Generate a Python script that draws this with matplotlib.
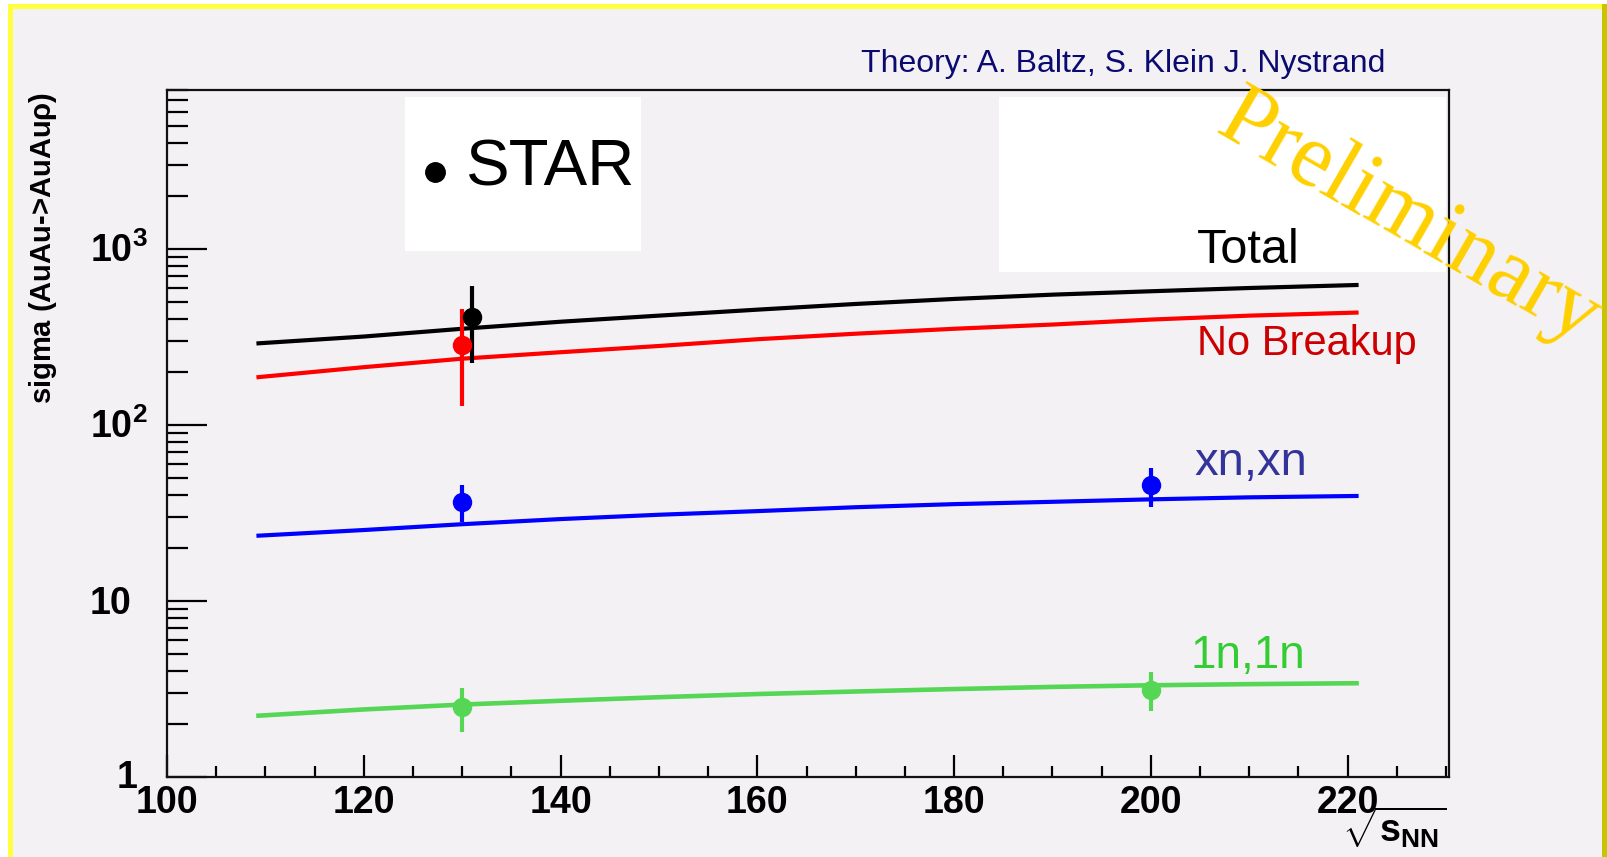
import matplotlib
matplotlib.use("Agg")
import matplotlib.pyplot as plt
from matplotlib.patches import Rectangle
from matplotlib.transforms import blended_transform_factory, ScaledTranslation
from matplotlib.ticker import FixedLocator, MultipleLocator, LogLocator, NullFormatter

plt.rcParams['font.family'] = ['Liberation Sans', 'DejaVu Sans']
plt.rcParams['mathtext.fontset'] = 'custom'
plt.rcParams['mathtext.rm'] = 'Liberation Sans'
plt.rcParams['mathtext.bf'] = 'Liberation Sans:bold'
plt.rcParams['mathtext.it'] = 'Liberation Sans:italic'

# ---- theory curves (Baltz, Klein, Nystrand) ----
sqrt_s = [109.3, 120, 130, 140, 150, 160, 170, 180, 190, 200, 210, 220.9]
sigma_total = [291, 318, 352, 386, 418, 452, 487, 520, 550, 575, 600, 624]
sigma_nobreakup = [187, 213, 238, 259, 281, 307, 330, 352, 372, 397, 418, 435]
sigma_xnxn = [23.5, 25.3, 27.3, 29.2, 30.9, 32.4, 34.1, 35.5, 36.6, 37.8, 38.8, 39.5]
sigma_1n1n = [2.23, 2.42, 2.58, 2.71, 2.84, 2.96, 3.06, 3.16, 3.25, 3.32, 3.37, 3.41]

# ---- STAR measurements ----
star_total_x = [131]
star_total_y = [412]
star_total_lo = [188]
star_total_hi = [205]

star_nobreakup_x = [130]
star_nobreakup_y = [285]
star_nobreakup_lo = [156]
star_nobreakup_hi = [169]

star_xnxn_x = [130, 200]
star_xnxn_y = [36.7, 45.7]
star_xnxn_lo = [8.5, 11.3]
star_xnxn_hi = [9.0, 11.2]

star_1n1n_x = [130, 200]
star_1n1n_y = [2.51, 3.12]
star_1n1n_lo = [0.70, 0.75]
star_1n1n_hi = [0.68, 0.84]

x_ticks = [100, 120, 140, 160, 180, 200, 220]
y_ticks = [1, 10, 100, 1000]
y_tick_labels = ['1', '10', r'$\mathbf{10}^{\mathbf{2}}$', r'$\mathbf{10}^{\mathbf{3}}$']

W, H = 1607, 857
BG = '#F4F1F5'

fig = plt.figure(figsize=(W / 100, H / 100), dpi=100, facecolor='white')


def px(x, y):
    """Pixel position (from top-left) to figure fraction."""
    return x / W, 1 - y / H


def prect(x0, y0, x1, y1, **kw):
    fx0, fy1 = px(x0, y1)
    return Rectangle((fx0, fy1), (x1 - x0) / W, (y1 - y0) / H,
                     transform=fig.transFigure, **kw)


# canvas with a yellow frame on top / left and a darker edge on the right
fig.patches.append(prect(8, 4, 1607, 857, facecolor=BG, edgecolor='none', zorder=-10))
fig.patches.append(prect(8, 4, 1602, 9, facecolor='#FFFF40', edgecolor='none', zorder=-9))
fig.patches.append(prect(8, 4, 13, 857, facecolor='#FFFF40', edgecolor='none', zorder=-9))
fig.patches.append(prect(1602, 4, 1607, 857, facecolor='#C8C400', edgecolor='none', zorder=-9))

ax_l, ax_t, ax_r, ax_b = 167, 90, 1449, 777
ax = fig.add_axes([ax_l / W, 1 - ax_b / H, (ax_r - ax_l) / W, (ax_b - ax_t) / H])
ax.set_zorder(1)
ax.set_facecolor(BG)
ax.set_yscale('log')
ax.set_xlim(100, 230.3)
ax.set_ylim(1, 8000)

for s in ax.spines.values():
    s.set_linewidth(1.6)
    s.set_color('#111111')

ax.xaxis.set_major_locator(FixedLocator(x_ticks))
ax.xaxis.set_minor_locator(MultipleLocator(5))
ax.set_xticklabels([str(v) for v in x_ticks])
ax.yaxis.set_major_locator(FixedLocator(y_ticks))
ax.yaxis.set_major_formatter(NullFormatter())
ax.yaxis.set_minor_locator(LogLocator(base=10, subs=[2, 3, 4, 5, 6, 7, 8, 9]))
ax.yaxis.set_minor_formatter(NullFormatter())

ax.tick_params(axis='x', which='major', direction='in', length=16, width=1.6,
               labelsize=27, pad=6, top=False)
ax.tick_params(axis='x', which='minor', direction='in', length=8, width=1.6, top=False)
ax.tick_params(axis='y', which='major', direction='in', length=29, width=1.6, right=False)
ax.tick_params(axis='y', which='minor', direction='in', length=15, width=1.6, right=False)
for lab in ax.get_xticklabels():
    lab.set_fontweight('bold')

# y tick labels: left-aligned decade labels, the "1" sits nearer the axis
ylab_tr = blended_transform_factory(fig.transFigure, ax.transData)
for v, lab in zip(y_ticks, y_tick_labels):
    x_left = 117 if v == 1 else 90
    dy = -11 if v == 1 else -13.5
    ax.text(x_left / W, v, lab, fontsize=27, fontweight='bold', ha='left',
            va='baseline', clip_on=False,
            transform=ylab_tr + ScaledTranslation(0, dy / 100, fig.dpi_scale_trans))

# theory lines
ax.plot(sqrt_s, sigma_total, color='black', lw=3, zorder=2)
ax.plot(sqrt_s, sigma_nobreakup, color='#FF0000', lw=3, zorder=2)
ax.plot(sqrt_s, sigma_xnxn, color='#0000FF', lw=3, zorder=2)
ax.plot(sqrt_s, sigma_1n1n, color='#55D655', lw=3.3, zorder=2)

# data points
eb = dict(fmt='o', markersize=13, elinewidth=3, capsize=0, zorder=3)
ax.errorbar(star_nobreakup_x, star_nobreakup_y, yerr=[star_nobreakup_lo, star_nobreakup_hi],
            color='#FF0000', **eb)
ax.errorbar(star_total_x, star_total_y, yerr=[star_total_lo, star_total_hi],
            color='black', **eb)
ax.errorbar(star_xnxn_x, star_xnxn_y, yerr=[star_xnxn_lo, star_xnxn_hi],
            color='#0000FF', **eb)
ax.errorbar(star_1n1n_x, star_1n1n_y, yerr=[star_1n1n_lo, star_1n1n_hi],
            color='#55D655', **eb)

# white label boxes
fig.patches.append(prect(405, 97, 641, 251, facecolor='white', edgecolor='none', zorder=3))
fig.patches.append(prect(999, 97, 1446, 272, facecolor='white', edgecolor='none', zorder=3))

# legend entry
fig.lines.append(plt.Line2D([435 / W], [1 - 172 / H], marker='o', markersize=14,
                            color='black', transform=fig.transFigure, zorder=4))
fig.text(*px(466, 185), 'STAR', fontsize=47, color='black', ha='left',
         va='baseline', zorder=5)

# curve labels
fig.text(*px(1197, 263), 'Total', fontsize=35, color='black', va='baseline', zorder=5)
fig.text(*px(1197, 355), 'No Breakup', fontsize=30, color='#CC0000', va='baseline', zorder=5)
fig.text(*px(1194, 475), 'xn,xn', fontsize=34, color='#333399', va='baseline', zorder=5)
fig.text(*px(1190, 668), '1n,1n', fontsize=33, color='#33CC33', va='baseline', zorder=5)

fig.text(*px(861, 72), 'Theory: A. Baltz, S. Klein J. Nystrand', fontsize=23,
         color='#0A0A70', va='baseline', zorder=5)

# axis titles
fig.text(*px(43, 92), r'sigma (AuAu->AuAu$\mathbf{\rho}$)', fontsize=21, fontweight='bold',
         rotation=90, ha='center', va='top', zorder=5)
fig.text(*px(1446, 828), r'$\sqrt{\mathbf{s}_{\mathbf{NN}}}$', fontsize=27,
         ha='right', va='center', zorder=5)

# watermark
fig.text(*px(1397, 239), 'Preliminary', fontsize=65, family='Liberation Serif',
         color='#FFD000', rotation=-30, rotation_mode='anchor', ha='center',
         va='baseline', zorder=6)

fig.savefig('out.png', dpi=100, facecolor='white')
